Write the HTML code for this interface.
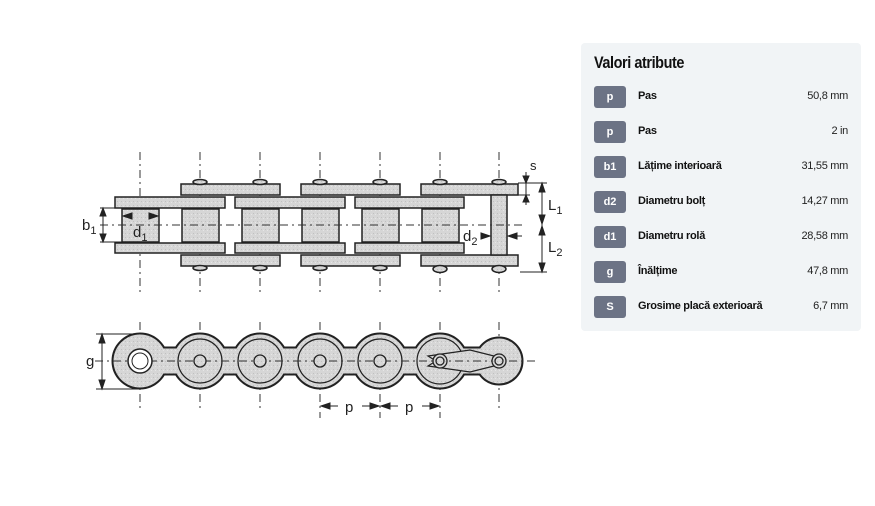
<!DOCTYPE html>
<html><head><meta charset="utf-8"><style>
body{margin:0;width:875px;height:506px;background:#fff;overflow:hidden;font-family:"Liberation Sans",sans-serif;position:relative}
.panel{position:absolute;left:581px;top:43px;width:280px;height:288px;background:#f1f4f6;border-radius:4px}
.title{position:absolute;left:13px;top:10px;font-size:17px;font-weight:bold;color:#111;letter-spacing:-0.5px;transform:scaleX(0.85);transform-origin:left}
.row{position:absolute;left:13px;width:254px;height:22px}
.badge{position:absolute;left:0;top:0;width:32px;height:22px;background:#6c7385;border-radius:3px;color:#fff;font-size:11px;font-weight:bold;text-align:center;line-height:22px}
.lab{position:absolute;left:44px;top:4px;font-size:11px;font-weight:bold;color:#111;letter-spacing:-0.3px}
.val{position:absolute;right:0;top:4px;font-size:11px;color:#222;letter-spacing:-0.3px}
svg text{font-family:"Liberation Sans",sans-serif}
</style></head><body>
<svg width="875" height="506" style="position:absolute;left:0;top:0">
<defs><pattern id="g" width="4" height="4" patternUnits="userSpaceOnUse"><rect width="4" height="4" fill="#d6d6d6"/><rect x="1" y="1" width="1" height="1" fill="#c0c0c0"/><rect x="3" y="2" width="1" height="1" fill="#e6e6e6"/></pattern></defs>
<g stroke="#333" stroke-width="1" stroke-dasharray="8,4,2,4">
<line x1="140" y1="152" x2="140" y2="295"/><line x1="200" y1="152" x2="200" y2="295"/><line x1="260" y1="152" x2="260" y2="295"/><line x1="320" y1="152" x2="320" y2="295"/><line x1="380" y1="152" x2="380" y2="295"/><line x1="440" y1="152" x2="440" y2="295"/><line x1="499" y1="152" x2="499" y2="295"/>
</g>
<g fill="url(#g)" stroke="#222" stroke-width="1.5">
<rect x="181" y="184" width="99" height="11"/><rect x="301" y="184" width="99" height="11"/><rect x="421" y="184" width="97" height="11"/>
<rect x="181" y="255" width="99" height="11"/><rect x="301" y="255" width="99" height="11"/><rect x="421" y="255" width="97" height="11"/>
<rect x="115" y="197" width="110" height="11"/><rect x="235" y="197" width="110" height="11"/><rect x="355" y="197" width="109" height="11"/>
<rect x="115" y="243" width="110" height="10"/><rect x="235" y="243" width="110" height="10"/><rect x="355" y="243" width="109" height="10"/>
<rect x="122" y="209" width="37" height="33"/><rect x="182" y="209" width="37" height="33"/><rect x="242" y="209" width="37" height="33"/><rect x="302" y="209" width="37" height="33"/><rect x="362" y="209" width="37" height="33"/><rect x="422" y="209" width="37" height="33"/>
<rect x="491" y="195" width="16" height="60"/>
<ellipse cx="200" cy="182" rx="7" ry="2.5"/><ellipse cx="260" cy="182" rx="7" ry="2.5"/><ellipse cx="320" cy="182" rx="7" ry="2.5"/><ellipse cx="380" cy="182" rx="7" ry="2.5"/><ellipse cx="440" cy="182" rx="7" ry="2.5"/><ellipse cx="499" cy="182" rx="7" ry="2.5"/>
<ellipse cx="200" cy="268" rx="7" ry="2.5"/><ellipse cx="260" cy="268" rx="7" ry="2.5"/><ellipse cx="320" cy="268" rx="7" ry="2.5"/><ellipse cx="380" cy="268" rx="7" ry="2.5"/><ellipse cx="440" cy="269" rx="7" ry="3.5"/><ellipse cx="499" cy="269" rx="7" ry="3.5"/>
</g>
<line x1="100" y1="225" x2="525" y2="225" stroke="#333" stroke-dasharray="8,4,2,4"/>
<g stroke="#222" stroke-width="1" fill="#222">
<line x1="100" y1="208" x2="122" y2="208"/><line x1="100" y1="242" x2="122" y2="242"/>
<line x1="103" y1="208" x2="103" y2="242"/><path d="M103 208l-3 8h6zM103 242l-3-8h6z"/>
<path d="M123 216l9-3v6zM158 216l-9-3v6z"/>
<path d="M490 236l-9-3v6zM508 236l9-3v6z"/><line x1="512" y1="236" x2="522" y2="236"/>
<line x1="518" y1="183" x2="547" y2="183"/><line x1="518" y1="195" x2="530" y2="195"/><line x1="520" y1="272" x2="547" y2="272"/>
<line x1="526" y1="172" x2="526" y2="205"/><path d="M526 183l-3-7h6zM526 195l-3 7h6z"/>
<line x1="542" y1="183" x2="542" y2="272"/><path d="M542 183l-3 9h6zM542 224l-3-9h6zM542 226l-3 9h6zM542 272l-3-9h6z"/>
</g>
<g font-size="15" fill="#222">
<text x="82" y="230">b<tspan font-size="11" dy="4">1</tspan></text>
<text x="133" y="237">d<tspan font-size="11" dy="4">1</tspan></text>
<text x="463" y="241">d<tspan font-size="11" dy="4">2</tspan></text>
<text x="530" y="170" font-size="13">s</text>
<text x="548" y="210">L<tspan font-size="11" dy="4">1</tspan></text>
<text x="548" y="252">L<tspan font-size="11" dy="4">2</tspan></text>
<text x="86" y="366">g</text>
<text x="345" y="412">p</text><text x="405" y="412">p</text>
</g>
<g stroke="#333" stroke-width="1" stroke-dasharray="8,4,2,4">
<line x1="140" y1="322" x2="140" y2="412"/><line x1="200" y1="322" x2="200" y2="412"/><line x1="260" y1="322" x2="260" y2="412"/><line x1="320" y1="322" x2="320" y2="418"/><line x1="380" y1="322" x2="380" y2="418"/><line x1="440" y1="322" x2="440" y2="418"/><line x1="499" y1="322" x2="499" y2="412"/>
</g>
<g fill="#222" stroke="#222">
<circle cx="140" cy="361" r="28"/><circle cx="200" cy="361" r="28"/><circle cx="260" cy="361" r="28"/><circle cx="320" cy="361" r="28"/><circle cx="380" cy="361" r="28"/><circle cx="440" cy="361" r="28"/><circle cx="499" cy="361" r="24"/>
<rect x="140" y="347" width="360" height="28"/>
</g>
<g fill="url(#g)">
<circle cx="140" cy="361" r="26.5"/><circle cx="200" cy="361" r="26.5"/><circle cx="260" cy="361" r="26.5"/><circle cx="320" cy="361" r="26.5"/><circle cx="380" cy="361" r="26.5"/><circle cx="440" cy="361" r="26.5"/><circle cx="499" cy="361" r="22.5"/>
<rect x="140" y="348.5" width="360" height="25"/>
</g>
<g fill="none" stroke="#222" stroke-width="1.2">
<circle cx="200" cy="361" r="22"/><circle cx="260" cy="361" r="22"/><circle cx="320" cy="361" r="22"/><circle cx="380" cy="361" r="22"/><circle cx="440" cy="361" r="23"/>
<path d="M428 356 L470 350 L494 356 L494 366 L470 372 L428 366 L436 361z" fill="url(#g)"/>
</g>
<line x1="95" y1="361" x2="535" y2="361" stroke="#333" stroke-dasharray="8,4,2,4"/>
<circle cx="140" cy="361" r="12" fill="#fff" stroke="#222" stroke-width="1.5"/><circle cx="140" cy="361" r="8" fill="#fff" stroke="#222"/>
<g fill="url(#g)" stroke="#222" stroke-width="1.3">
<circle cx="200" cy="361" r="6"/><circle cx="260" cy="361" r="6"/><circle cx="320" cy="361" r="6"/><circle cx="380" cy="361" r="6"/>
<circle cx="440" cy="361" r="7"/><circle cx="440" cy="361" r="4"/><circle cx="499" cy="361" r="7"/><circle cx="499" cy="361" r="4"/>
</g>
<g stroke="#222" fill="#222">
<line x1="96" y1="334" x2="140" y2="334"/><line x1="96" y1="389" x2="140" y2="389"/>
<line x1="102" y1="334" x2="102" y2="389"/><path d="M102 334l-3 9h6zM102 389l-3-9h6z"/>
<path d="M321 406l9-3v6zM379 406l-9-3v6zM381 406l9-3v6zM439 406l-9-3v6z"/>
<line x1="330" y1="406" x2="338" y2="406"/><line x1="362" y1="406" x2="370" y2="406"/><line x1="390" y1="406" x2="398" y2="406"/><line x1="422" y1="406" x2="430" y2="406"/>
</g>
</svg>
<div class="panel">
<div class="title">Valori atribute</div>
<div class="row" style="top:43px"><div class="badge">p</div><div class="lab">Pas</div><div class="val">50,8 mm</div></div>
<div class="row" style="top:78px"><div class="badge">p</div><div class="lab">Pas</div><div class="val">2 in</div></div>
<div class="row" style="top:113px"><div class="badge">b1</div><div class="lab">Lățime interioară</div><div class="val">31,55 mm</div></div>
<div class="row" style="top:148px"><div class="badge">d2</div><div class="lab">Diametru bolț</div><div class="val">14,27 mm</div></div>
<div class="row" style="top:183px"><div class="badge">d1</div><div class="lab">Diametru rolă</div><div class="val">28,58 mm</div></div>
<div class="row" style="top:218px"><div class="badge">g</div><div class="lab">Înălțime</div><div class="val">47,8 mm</div></div>
<div class="row" style="top:253px"><div class="badge">S</div><div class="lab">Grosime placă exterioară</div><div class="val">6,7 mm</div></div>
</div>
</body></html>
